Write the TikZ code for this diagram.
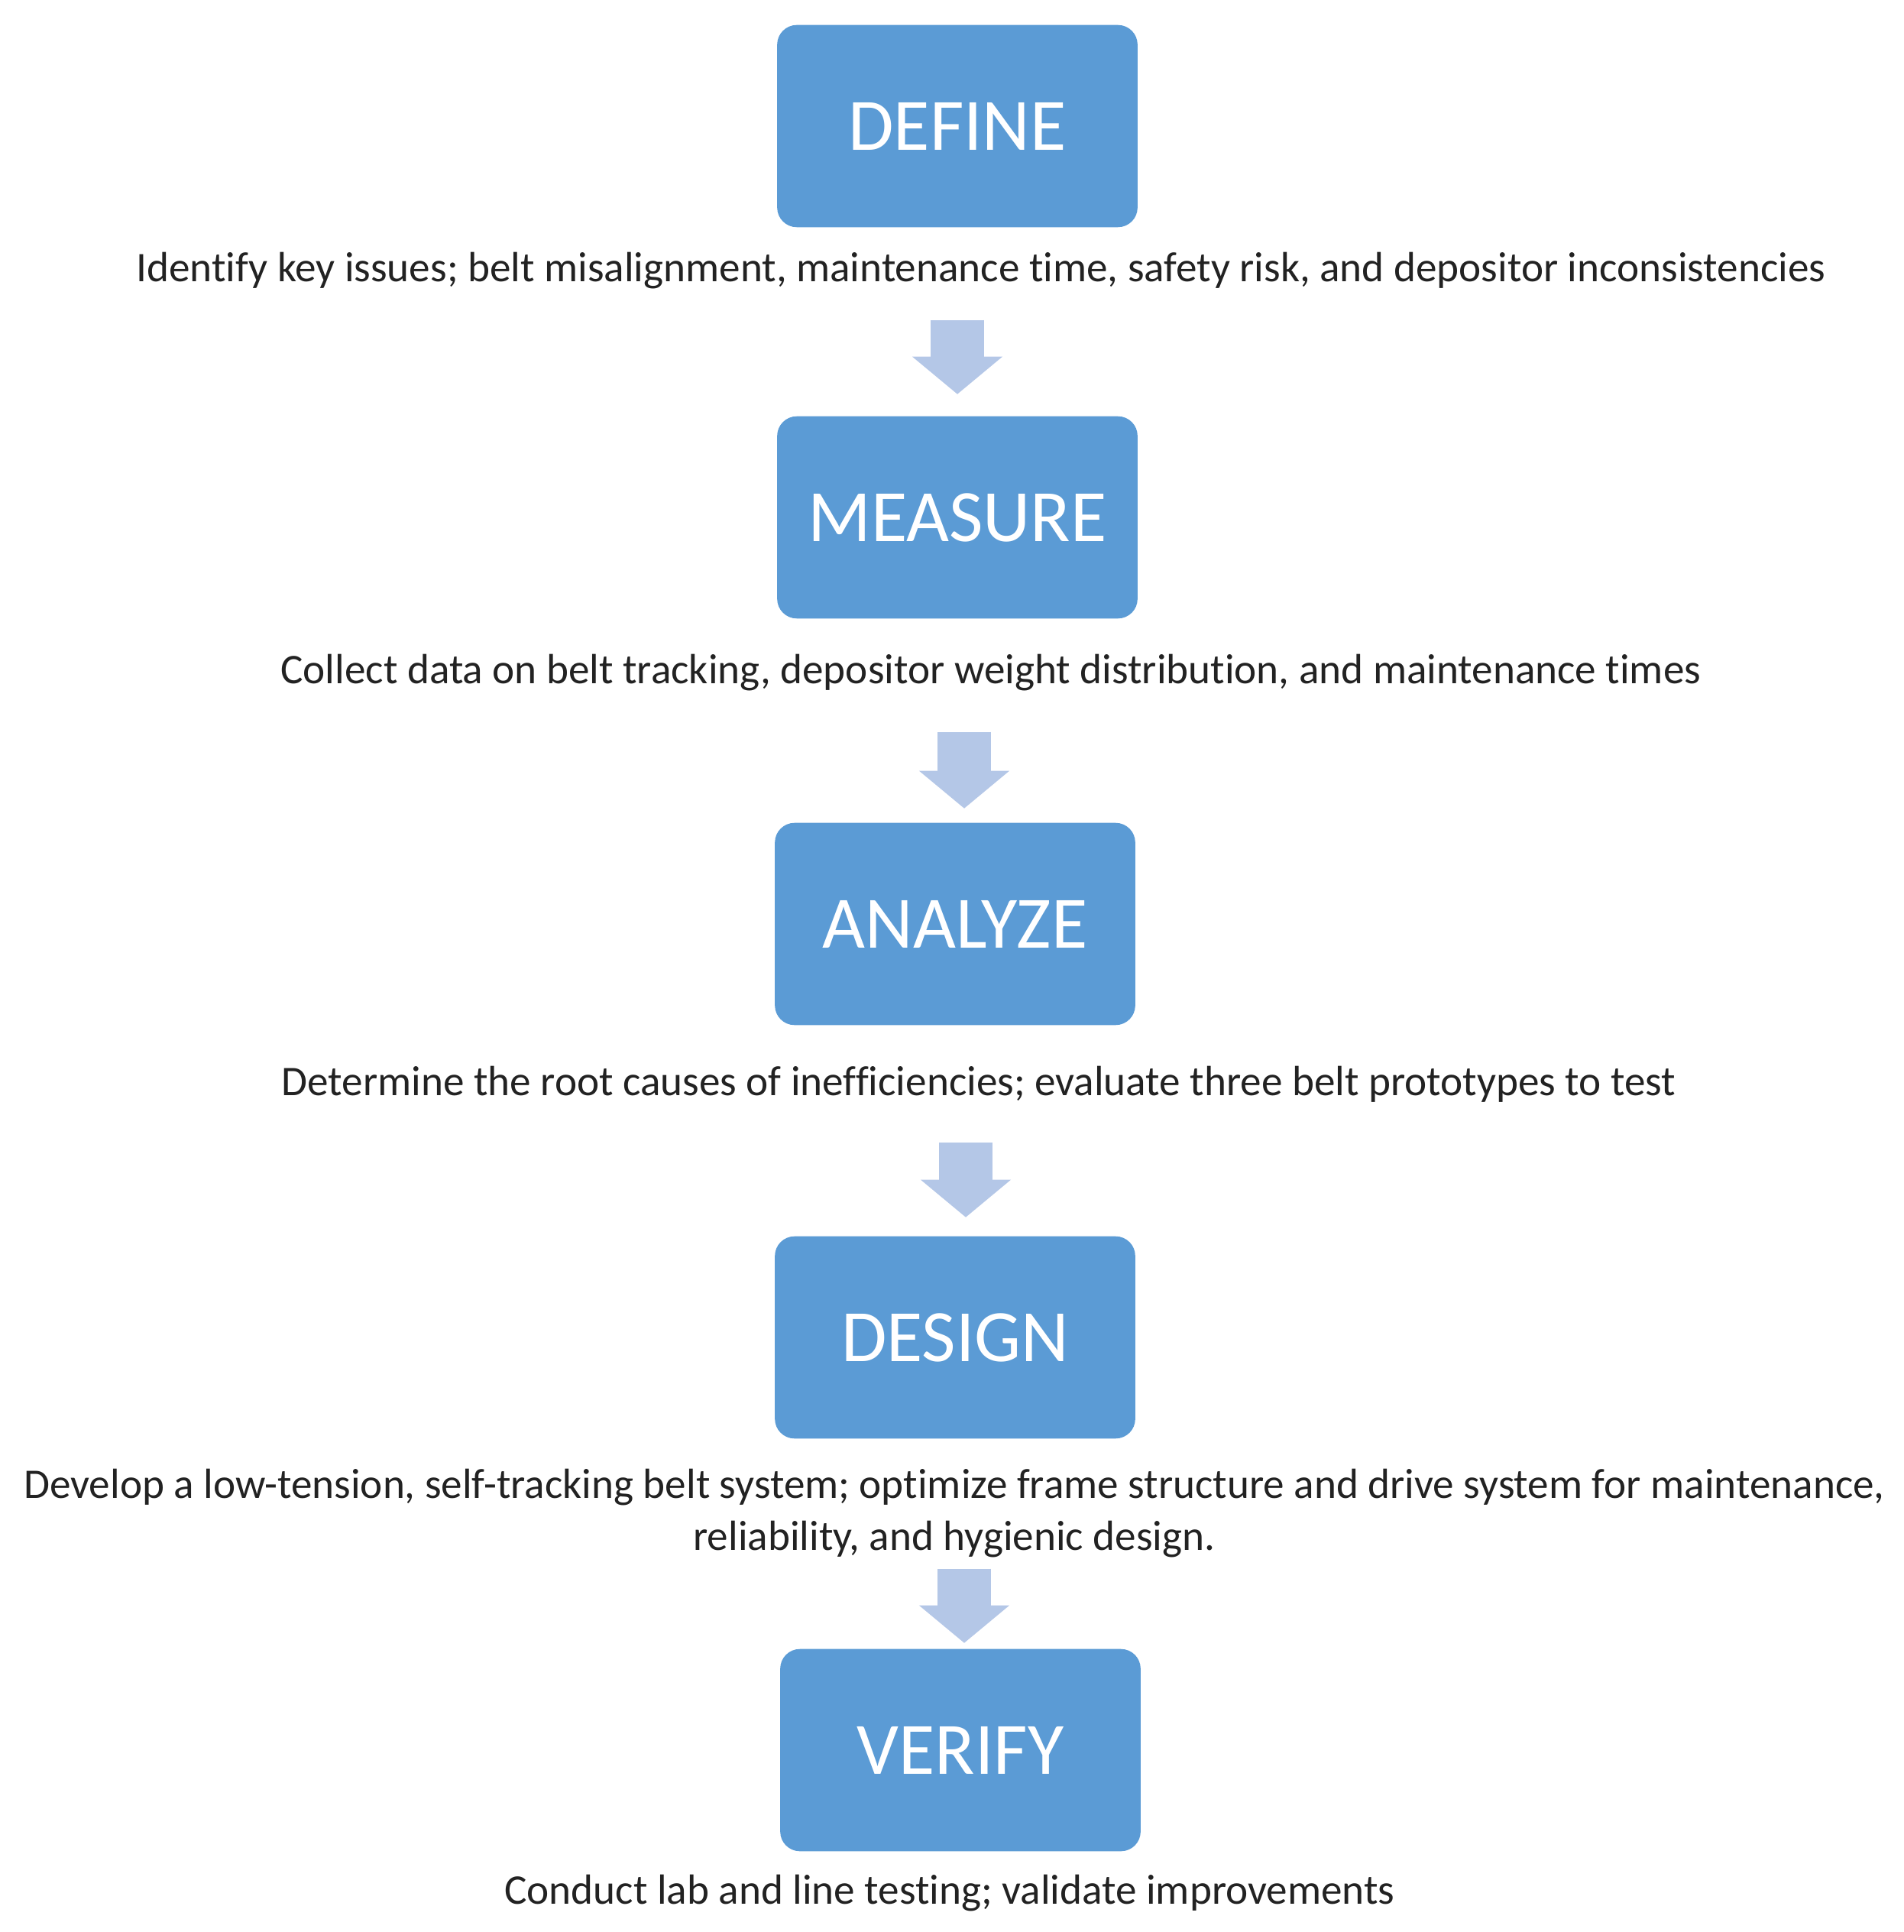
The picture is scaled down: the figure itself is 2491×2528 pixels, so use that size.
\documentclass[tikz,border=0pt]{standalone}
\usepackage{fontspec}
\setmainfont{Carlito}[Ligatures=NoCommon]
\usepackage{xcolor}
\usetikzlibrary{arrows.meta,calc}
\definecolor{boxblue}{HTML}{5B9BD5}
\definecolor{arrowblue}{HTML}{B4C7E7}
\definecolor{textdark}{HTML}{222222}
\tikzset{>=latex}
\tikzset{
  stage/.style={draw=boxblue,fill=boxblue,rounded corners=0.25cm,minimum width=4.7cm,minimum height=2.63cm,
    inner sep=0pt,text=white,font=\fontsize{27.5}{32}\selectfont},
  descr/.style={anchor=base,align=center,inner sep=0pt,text depth=0pt,text=textdark,
    font=\fontsize{15.7}{19.1}\selectfont},
  blockarrow/.style={draw=arrowblue,line width=0.7cm,
    -{Triangle[length=0.49cm,width=1.18cm,line width=0pt]}}
}

\begin{document}
\begin{tikzpicture}[x=0.01cm,y=-0.01cm]
  \useasboundingbox (0,0) rectangle (2491,2528);

  % Boxes
  \node[stage] (define)  at (1253,165)  {DEFINE};
  \node[stage] (measure) at (1253,677)  {MEASURE};
  \node[stage] (analyze) at (1250,1209) {ANALYZE};
  \node[stage] (design)  at (1250,1750) {DESIGN};
  \node[stage] (verify)  at (1257,2290) {VERIFY};

  % Descriptions
  \node[descr] (d1) at (1284,369)  {Identify key issues; belt misalignment, maintenance time, safety risk, and depositor inconsistencies};
  \node[descr] (d2) at (1297,894)  {Collect data on belt tracking, depositor weight distribution, and maintenance times};
  \node[descr] (d3) at (1281,1433) {Determine the root causes of inefficiencies; evaluate three belt prototypes to test};
  \node[descr] (d4) at (1249,2028) {Develop a low-tension, self-tracking belt system; optimize frame structure and drive system for maintenance,\\
    reliability, and hygienic design.};
  \node[descr] (d5) at (1243,2491) {Conduct lab and line testing; validate improvements};

  % Arrows
  \draw[blockarrow,shorten <=0.49cm,shorten >=0.29cm] (d1.south -| measure.north) -- (measure.north);
  \draw[blockarrow,shorten <=0.63cm,shorten >=0.19cm] ($(d2.south -| analyze.north)+(12,0)$) -- ($(analyze.north)+(12,0)$);
  \draw[blockarrow,shorten <=0.61cm,shorten >=0.25cm] ($(d3.south -| design.north)+(14,0)$) -- ($(design.north)+(14,0)$);
  \draw[blockarrow,shorten <=0.24cm,shorten >=0.08cm] ($(d4.south -| verify.north)+(5,0)$) -- ($(verify.north)+(5,0)$);
\end{tikzpicture}
\end{document}
